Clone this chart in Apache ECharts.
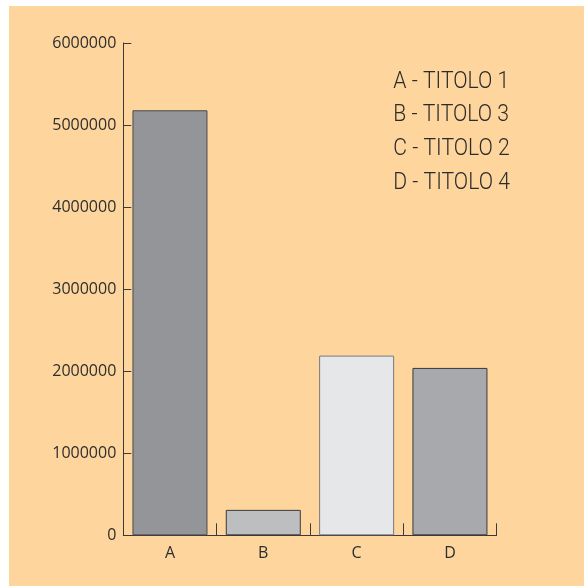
<!DOCTYPE html>
<html>
<head>
<meta charset="utf-8">
<script src="https://cdn.jsdelivr.net/npm/echarts@6/dist/echarts.min.js"></script>
<style>
html,body{margin:0;padding:0;background:#ffffff;width:584px;height:586px;overflow:hidden;}
#chart{position:absolute;left:9px;top:6px;width:575px;height:580px;background:#fdd59d;}
</style>
</head>
<body>
<div id="chart"></div>
<script>
var categories = ['A', 'B', 'C', 'D'];
var values = [5180000, 310000, 2190000, 2040000];
var barColors = ['#939598', '#bcbec0', '#e6e7e8', '#a7a9ac'];
var barBorders = ['#4a4a4a', '#3a3a3a', '#7a7a7a', '#3a3a3a'];
var legendLines = ['A - TITOLO 1', 'B - TITOLO 3', 'C - TITOLO 2', 'D - TITOLO 4'];
var yTicks = [0, 1000000, 2000000, 3000000, 4000000, 5000000, 6000000];

var chart = echarts.init(document.getElementById('chart'));

var legendY = [76, 109.5, 143.5, 177.5];
var graphics = legendLines.map(function (t, i) {
  return {
    type: 'text',
    x: 384.3,
    y: legendY[i],
    scaleX: 0.92,
    style: {
      text: t,
      font: '300 23px Roboto',
      fill: '#2b2b2b',
      verticalAlign: 'middle',
      align: 'left'
    }
  };
});

chart.setOption({
  animation: false,
  backgroundColor: 'transparent',
  grid: { left: 114.3, top: 37, right: 87.4, bottom: 50.7, containLabel: false },
  xAxis: {
    type: 'category',
    data: categories,
    boundaryGap: true,
    axisLine: { lineStyle: { color: '#3a3a3a', width: 1 } },
    axisTick: { show: true, inside: true, length: 12, interval: 0, alignWithLabel: false, lineStyle: { color: '#3a3a3a', width: 1 } },
    axisLabel: { color: '#2e2e2e', fontFamily: 'Open Sans', fontSize: 16, margin: 10 },
    splitLine: { show: false }
  },
  yAxis: {
    type: 'value',
    min: yTicks[0],
    max: yTicks[yTicks.length - 1],
    interval: yTicks[1] - yTicks[0],
    axisLine: { show: true, lineStyle: { color: '#3a3a3a', width: 1 } },
    axisTick: { show: true, inside: true, length: 8, lineStyle: { color: '#3a3a3a', width: 1 } },
    axisLabel: { color: '#2e2e2e', fontFamily: 'Open Sans', fontSize: 16, margin: 7,
      formatter: function (v) { return String(v); } },
    splitLine: { show: false }
  },
  series: [{
    type: 'bar',
    barWidth: 75,
    data: values.map(function (v, i) {
      return { value: v, itemStyle: { color: barColors[i], borderColor: barBorders[i], borderWidth: 1 } };
    })
  }],
  graphic: graphics
});
</script>
</body>
</html>
